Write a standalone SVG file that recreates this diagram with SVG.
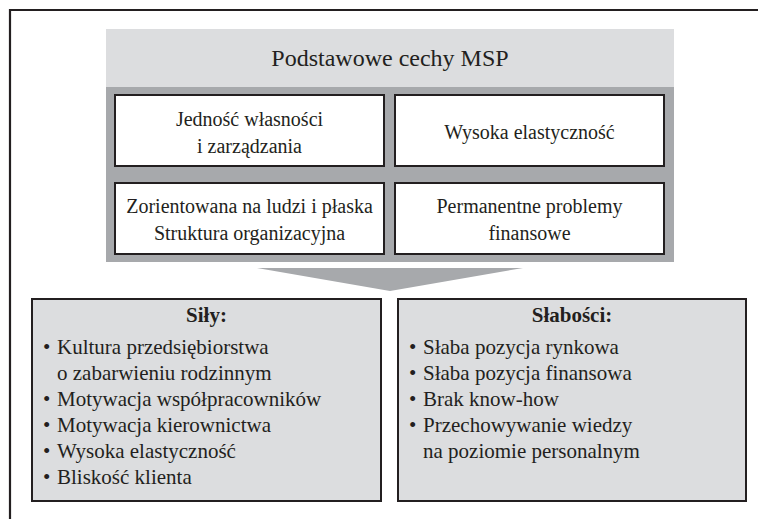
<svg xmlns="http://www.w3.org/2000/svg" width="758" height="519" viewBox="0 0 758 519" font-family="Liberation Serif, Times New Roman, serif">
<style>
.box{fill:#ffffff;stroke:#231f20;stroke-width:2}
.gbox{fill:#dcdddf;stroke:#231f20;stroke-width:2}
</style>
<rect width="758" height="519" fill="#ffffff"/>
<path d="M10 519 V10 H758" fill="none" stroke="#231f20" stroke-width="2.2"/>
<g id="panel">
<rect x="106" y="29" width="568" height="58" fill="#dcdddf"/>
<rect x="106" y="87" width="568" height="175" fill="#a7a9ac"/>
<text x="390" y="66" font-size="24" text-anchor="middle" fill="#231f20">Podstawowe cechy MSP</text>
</g>
<g id="node-jednosc" font-size="20" text-anchor="middle" fill="#231f20">
<rect class="box" x="115" y="95" width="269" height="71"/>
<text x="249.5" y="126">Jedność własności</text>
<text x="249.5" y="153">i zarządzania</text>
</g>
<g id="node-elastycznosc" font-size="20" text-anchor="middle" fill="#231f20">
<rect class="box" x="395" y="95" width="269" height="71"/>
<text x="529.5" y="139">Wysoka elastyczność</text>
</g>
<g id="node-struktura" font-size="20" text-anchor="middle" fill="#231f20">
<rect class="box" x="115" y="183" width="269" height="71"/>
<text x="249.5" y="213">Zorientowana na ludzi i płaska</text>
<text x="249.5" y="240">Struktura organizacyjna</text>
</g>
<g id="node-finanse" font-size="20" text-anchor="middle" fill="#231f20">
<rect class="box" x="395" y="183" width="269" height="71"/>
<text x="529.5" y="213">Permanentne problemy</text>
<text x="529.5" y="240">finansowe</text>
</g>
<g id="connectors">
<polygon points="257,268 523,268 390,291" fill="#a7a9ac"/>
</g>
<g id="node-sily" font-size="21" fill="#231f20">
<rect class="gbox" x="32" y="299" width="349" height="202"/>
<text x="206.5" y="322" font-weight="bold" text-anchor="middle">Siły:</text>
<text x="43" y="354">•</text><text x="57" y="354">Kultura przedsiębiorstwa</text>
<text x="57" y="380">o zabarwieniu rodzinnym</text>
<text x="43" y="406">•</text><text x="57" y="406">Motywacja współpracowników</text>
<text x="43" y="432">•</text><text x="57" y="432">Motywacja kierownictwa</text>
<text x="43" y="458">•</text><text x="57" y="458">Wysoka elastyczność</text>
<text x="43" y="484">•</text><text x="57" y="484">Bliskość klienta</text>
</g>
<g id="node-slabosci" font-size="21" fill="#231f20">
<rect class="gbox" x="398" y="299" width="348" height="202"/>
<text x="572" y="322" font-weight="bold" text-anchor="middle">Słabości:</text>
<text x="409" y="354">•</text><text x="423" y="354">Słaba pozycja rynkowa</text>
<text x="409" y="380">•</text><text x="423" y="380">Słaba pozycja finansowa</text>
<text x="409" y="406">•</text><text x="423" y="406">Brak know-how</text>
<text x="409" y="432">•</text><text x="423" y="432">Przechowywanie wiedzy</text>
<text x="423" y="458">na poziomie personalnym</text>
</g>
</svg>
